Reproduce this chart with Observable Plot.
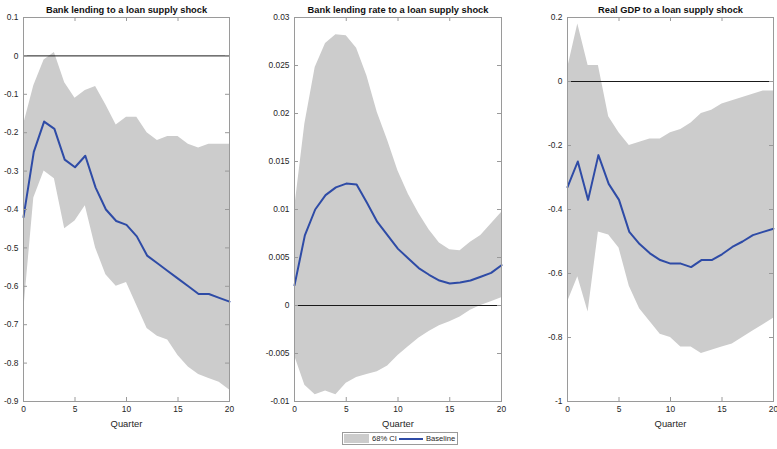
<!DOCTYPE html>
<html>
<head>
<meta charset="utf-8">
<script src="https://cdn.jsdelivr.net/npm/d3@7"></script>
<script src="https://cdn.jsdelivr.net/npm/@observablehq/plot@0.6"></script>
<style>
  body { margin: 0; background: #fff; }
  #wrap { position: relative; width: 777px; height: 449px; overflow: hidden; font-family: "Liberation Sans", Arial, sans-serif; }
  #wrap svg { position: absolute; top: 0; }
  #legend { position: absolute; left: 342px; top: 432px; width: 114px; height: 11px; border: 1px solid #9a9a9a; background: #fff;
    font-size: 7.6px; color: #262626; white-space: nowrap; }
  #legend > * { position: absolute; }
  #legend .sw { left: 1px; top: 1px; width: 25px; height: 9px; background: #cccccc; }
  #legend .t1 { left: 29px; top: 0; line-height: 11px; }
  #legend .ln { left: 56px; top: 4.5px; width: 24px; height: 0; border-top: 2px solid #2e4ba6; }
  #legend .t2 { left: 83px; top: 0; line-height: 11px; }
</style>
</head>
<body>
<div id="wrap"><div id="legend"><div class="sw"></div><span class="t1">68% CI</span><div class="ln"></div><span class="t2">Baseline</span></div></div>
<script>
const quarters = d3.range(0, 21);
const xTicks = [0, 5, 10, 15, 20];

const titles = ["Bank lending to a loan supply shock", "Bank lending rate to a loan supply shock", "Real GDP to a loan supply shock"];

// Panel 1: Bank lending
const lendBase  = [-0.42,-0.25,-0.171,-0.19,-0.27,-0.29,-0.26,-0.343,-0.40,-0.43,-0.44,-0.47,-0.52,-0.54,-0.56,-0.58,-0.60,-0.62,-0.62,-0.63,-0.64];
const lendUpper = [-0.18,-0.078,-0.011,0.009,-0.07,-0.11,-0.09,-0.08,-0.128,-0.18,-0.16,-0.16,-0.20,-0.22,-0.21,-0.21,-0.23,-0.24,-0.23,-0.23,-0.23];
const lendLower = [-0.67,-0.37,-0.30,-0.32,-0.45,-0.43,-0.39,-0.50,-0.57,-0.60,-0.59,-0.65,-0.71,-0.73,-0.74,-0.78,-0.81,-0.83,-0.84,-0.85,-0.87];
const lendTicks = [0.1,0,-0.1,-0.2,-0.3,-0.4,-0.5,-0.6,-0.7,-0.8,-0.9];

// Panel 2: Bank lending rate
const rateBase  = [0.0021,0.0073,0.0100,0.0115,0.0123,0.0127,0.0126,0.0107,0.0087,0.0073,0.0059,0.0049,0.0039,0.0032,0.0026,0.0023,0.0024,0.0026,0.0030,0.0034,0.0042];
const rateUpper = [0.0100,0.0189,0.0248,0.0273,0.0282,0.0281,0.0268,0.0239,0.0201,0.0172,0.0140,0.0116,0.0096,0.0079,0.0065,0.0058,0.0057,0.0066,0.0073,0.0085,0.0097];
const rateLower = [-0.0052,-0.0083,-0.0093,-0.0089,-0.0093,-0.0081,-0.0075,-0.0072,-0.0069,-0.0063,-0.0052,-0.0043,-0.0034,-0.0027,-0.0021,-0.0017,-0.0012,-0.0005,0.0000,0.0004,0.0008];
const rateTicks = [0.03,0.025,0.02,0.015,0.01,0.005,0,-0.005,-0.01];

// Panel 3: Real GDP
const gdpBase  = [-0.33,-0.25,-0.37,-0.23,-0.32,-0.37,-0.47,-0.508,-0.537,-0.558,-0.569,-0.569,-0.58,-0.558,-0.558,-0.54,-0.517,-0.50,-0.48,-0.47,-0.46];
const gdpUpper = [0.04,0.18,0.05,0.05,-0.11,-0.16,-0.20,-0.19,-0.18,-0.18,-0.16,-0.15,-0.13,-0.10,-0.09,-0.07,-0.06,-0.05,-0.04,-0.03,-0.03];
const gdpLower = [-0.69,-0.61,-0.72,-0.47,-0.48,-0.52,-0.64,-0.71,-0.75,-0.79,-0.80,-0.83,-0.83,-0.85,-0.84,-0.83,-0.82,-0.80,-0.78,-0.76,-0.74];
const gdpTicks = [0.2,0,-0.2,-0.4,-0.6,-0.8,-1];

const FONT = "'Liberation Sans', Arial, sans-serif";
const H = 440, MT = 17, MB = 39;
const frameColor = "#9a9a9a";

function panel({title, base, upper, lower, domain, ticks, left, width, mL, mR}) {
  const data = quarters.map((q, i) => ({q, b: base[i], hi: upper[i], lo: lower[i]}));
  const fw = width - mL - mR, fh = H - MT - MB;
  const svg = Plot.plot({
    width, height: H, marginLeft: mL, marginRight: mR, marginTop: MT, marginBottom: MB,
    x: {domain: [0, 20]},
    y: {domain},
    style: {fontFamily: FONT, fontSize: "8.4px", color: "#262626", background: "transparent", overflow: "visible"},
    marks: [
      Plot.areaY(data, {x: "q", y1: "lo", y2: "hi", fill: "#cccccc", curve: "linear"}),
      Plot.ruleY([0], {stroke: "#1a1a1a", strokeWidth: 1}),
      Plot.lineY(data, {x: "q", y: "b", stroke: "#2e4ba6", strokeWidth: 2}),
      Plot.frame({stroke: frameColor}),
      Plot.tickY(ticks, {y: d => d, insetRight: fw - 4, stroke: frameColor}),
      Plot.tickY(ticks, {y: d => d, insetLeft: fw - 4, stroke: frameColor}),
      Plot.tickX(xTicks, {x: d => d, insetBottom: fh - 4, stroke: frameColor}),
      Plot.tickX(xTicks, {x: d => d, insetTop: fh - 4, stroke: frameColor}),
      Plot.axisY(ticks, {tickSize: 0, tickPadding: 5, tickFormat: d => String(d), label: null}),
      Plot.axisX(xTicks, {tickSize: 0, tickPadding: 5, tickFormat: d => String(d), label: null}),
      Plot.text(["Quarter"], {frameAnchor: "bottom", dy: 22, lineAnchor: "middle", fontSize: 9.4, fill: "#262626"}),
      Plot.text([title], {frameAnchor: "top", dy: -7.5, lineAnchor: "middle", fontSize: 9.3, fontWeight: "bold", fill: "#111"})
    ]
  });
  svg.style.left = left + "px";
  return svg;
}

const wrap = document.getElementById("wrap");
const legend = document.getElementById("legend");
wrap.insertBefore(panel({title: titles[0], base: lendBase, upper: lendUpper, lower: lendLower, domain: [-0.9, 0.1], ticks: lendTicks, left: 0, width: 250, mL: 23, mR: 21}), legend);
wrap.insertBefore(panel({title: titles[1], base: rateBase, upper: rateUpper, lower: rateLower, domain: [-0.01, 0.03], ticks: rateTicks, left: 255, width: 260, mL: 39, mR: 14}), legend);
wrap.insertBefore(panel({title: titles[2], base: gdpBase, upper: gdpUpper, lower: gdpLower, domain: [-1, 0.2], ticks: gdpTicks, left: 515, width: 262, mL: 52, mR: 4}), legend);
</script>
</body>
</html>
